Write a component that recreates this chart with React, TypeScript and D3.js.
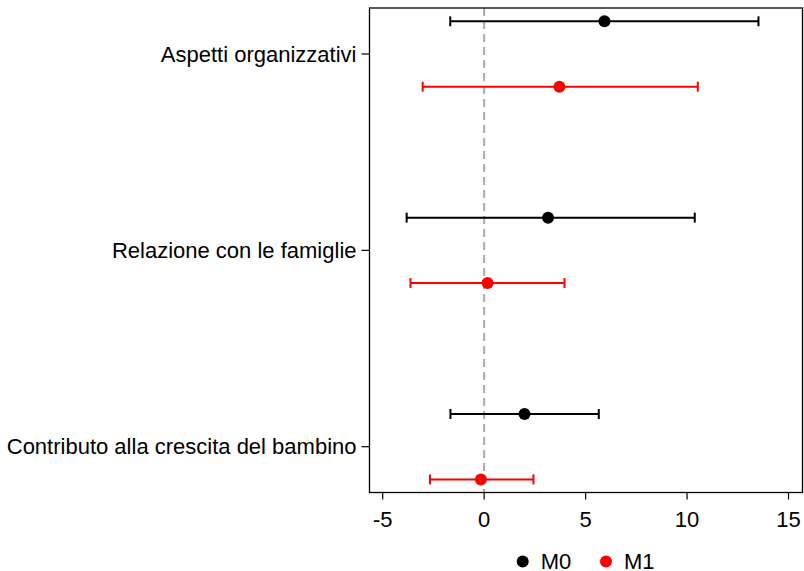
import React from "react";
import * as d3 from "d3";

const categories = ["Aspetti organizzativi", "Relazione con le famiglie", "Contributo alla crescita del bambino"];
const models = ["M0", "M1"];
const colors = ["#000000", "#ff0000"];
const estimates = [
  [5.93, 3.15, 1.99],
  [3.71, 0.17, -0.16],
];
const lower = [
  [-1.67, -3.82, -1.66],
  [-3.03, -3.63, -2.67],
];
const upper = [
  [13.52, 10.38, 5.65],
  [10.53, 3.96, 2.43],
];
const xTicks = [-5, 0, 5, 10, 15];

export default function App() {
  const W = 804, H = 571;
  const left = 369.5, right = 802.5, top = 8, bottom = 492.5;
  const x = d3.scaleLinear().domain([-5.65, 15.69]).range([left, right]);
  const y = d3.scalePoint<string>().domain(categories).range([54, 446.7]);
  const off = 32.7;
  const font = "Liberation Sans, Arial, sans-serif";
  const fs = 22;
  return (
    <svg width={W} height={H} style={{ position: "absolute", left: 0, top: 0 }} fontFamily={font}>
      <rect x={0} y={0} width={W} height={H} fill="white" />
      <line x1={x(0)} x2={x(0)} y1={top} y2={bottom} stroke="#aaaaaa" strokeWidth={2} strokeDasharray="8,5" />
      {models.map((m, mi) =>
        categories.map((c, ci) => {
          const yy = (y(c) as number) + (mi === 0 ? -off : off);
          return (
            <g key={m + c} stroke={colors[mi]} fill={colors[mi]}>
              <line x1={x(lower[mi][ci])} x2={x(upper[mi][ci])} y1={yy} y2={yy} strokeWidth={2} />
              <line x1={x(lower[mi][ci])} x2={x(lower[mi][ci])} y1={yy - 5} y2={yy + 5} strokeWidth={2} />
              <line x1={x(upper[mi][ci])} x2={x(upper[mi][ci])} y1={yy - 5} y2={yy + 5} strokeWidth={2} />
              <circle cx={x(estimates[mi][ci])} cy={yy} r={6} stroke="none" />
            </g>
          );
        })
      )}
      <rect x={left} y={top} width={right - left} height={bottom - top} fill="none" stroke="#000" strokeWidth={1.3} />
      {categories.map((c) => (
        <g key={c}>
          <line x1={left - 8} x2={left} y1={y(c)} y2={y(c)} stroke="#000" strokeWidth={1.2} />
          <text x={left - 13} y={(y(c) as number)} dy="0.35em" textAnchor="end" fontSize={fs} fill="#000">{c}</text>
        </g>
      ))}
      {xTicks.map((t) => (
        <g key={t}>
          <line x1={x(t)} x2={x(t)} y1={bottom} y2={bottom + 7} stroke="#000" strokeWidth={1.2} />
          <text x={x(t)} y={519} dy="0.35em" textAnchor="middle" fontSize={fs} fill="#000">{t}</text>
        </g>
      ))}
      {models.map((m, mi) => {
        const cx = mi === 0 ? 522.7 : 606;
        return (
          <g key={m}>
            <circle cx={cx} cy={561.5} r={6} fill={colors[mi]} />
            <text x={cx + 18} y={561} dy="0.35em" fontSize={fs} fill="#000">{m}</text>
          </g>
        );
      })}
    </svg>
  );
}
